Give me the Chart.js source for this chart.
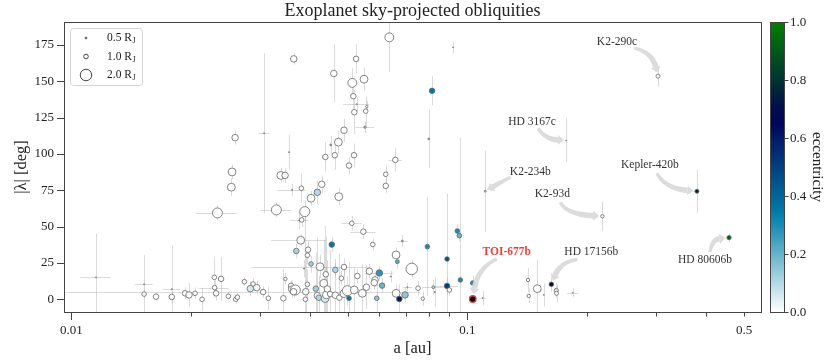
<!DOCTYPE html>
<html>
<head>
<meta charset="utf-8">
<script src="https://cdn.jsdelivr.net/npm/chart.js@4.4.0/dist/chart.umd.min.js"></script>
<style>
  html, body { margin: 0; padding: 0; background: #fff; }
  #wrap { width: 831px; height: 362px; }
</style>
</head>
<body>
<div id="wrap"><canvas id="obliq" width="831" height="362"></canvas></div>
<script>
// semi-major axis [au], |lambda| [deg] and their errors; the 8 annotated planets are last
const semiMajor = [
  0.01154, 0.01526, 0.01526, 0.01636, 0.01793, 0.01793, 0.01937, 0.01982, 0.02053, 0.02138,
  0.02296, 0.02388, 0.02300, 0.02320, 0.02492, 0.02600, 0.02626, 0.02338, 0.02535, 0.02546,
  0.02591, 0.02735, 0.02877, 0.02831, 0.02939, 0.03049, 0.03144, 0.03066, 0.03294, 0.03380,
  0.03465, 0.03431, 0.03471, 0.03546, 0.03644, 0.03587, 0.03600, 0.03678, 0.03640, 0.03607,
  0.03699, 0.03764, 0.03817, 0.03808, 0.03795, 0.03885, 0.03869, 0.03907, 0.03900, 0.03945,
  0.03960, 0.03945, 0.04030, 0.04030, 0.04142, 0.04180, 0.04214, 0.04180, 0.04288, 0.04246,
  0.04339, 0.04372, 0.04379, 0.04390, 0.04405, 0.04431, 0.04501, 0.04519, 0.04546, 0.04599,
  0.04626, 0.04642, 0.04640, 0.04723, 0.04735, 0.04751, 0.04806, 0.04882, 0.04880, 0.04880,
  0.04977, 0.05026, 0.05026, 0.05106, 0.05123, 0.05153, 0.05183, 0.05174, 0.05180, 0.05236,
  0.05257, 0.05275, 0.05430, 0.05463, 0.05484, 0.05538, 0.05572, 0.05517, 0.05559, 0.05656,
  0.05769, 0.05848, 0.05820, 0.05905, 0.05995, 0.06090, 0.06222, 0.06222, 0.06353, 0.06406,
  0.06579, 0.06607, 0.06656, 0.06610, 0.06735, 0.06854, 0.06962, 0.07056, 0.07238, 0.07508,
  0.07716, 0.07925, 0.07990, 0.08146, 0.08206, 0.08274, 0.08887, 0.08887, 0.09006, 0.09203,
  0.09434, 0.09546, 0.09601, 0.10320, 0.10940, 0.14230, 0.15020, 0.14290, 0.15600, 0.16780,
  0.16800, 0.18460,
  0.1032, 0.163, 0.1775, 0.111, 0.2193, 0.303, 0.380, 0.458
];
const lambdaDeg = [
  15.1, 3.6, 10.3, 1.8, 1.6, 6.9, 4.1, 3.0, 4.1, 0.0,
  15.1, 14.0, 8.0, 4.1, 2.1, 0.0, 1.4, 59.4, 77.1, 87.6,
  111.2, 12.1, 10.5, 7.3, 8.0, 5.0, 0.7, 114.2, 61.5, 85.2,
  85.2, 0.7, 14.0, 101.2, 165.4, 9.2, 6.9, 6.4, 5.2, 75.2,
  33.2, 54.2, 54.6, 76.4, 40.6, 60.3, 21.1, 5.2, 0.0, 10.3,
  34.1, 30.3, 69.5, 24.3, 7.3, 2.5, 1.1, 73.6, 79.1, 22.4,
  11.0, 0.5, 97.9, 17.2, 3.0, 7.1, 3.6, 106.2, 37.6, 155.3,
  99.1, 20.2, 2.8, 108.1, 70.6, 1.1, 14.5, 116.3, 22.2, 3.9,
  5.9, 0.7, 92.0, 52.3, 148.9, 139.7, 128.7, 99.1, 6.4, 165.4,
  134.2, 16.0, 4.1, 46.5, 151.4, 129.4, 132.6, 118.4, 8.3, 19.3,
  37.7, 13.3, 11.4, 0.7, 18.1, 9.4, 86.0, 78.0, 180.2, 15.6,
  95.9, 30.5, 25.9, 4.1, 0.2, 40.1, 3.0, 8.3, 20.9, 7.6,
  0.4, 36.2, 110.3, 143.4, 8.3, 5.0, 27.7, 9.2, 6.4, 173.3,
  47.0, 43.8, 13.3, 11.2, 0.9, 13.3, 7.3, 2.3, 3.0, 6.2,
  4.1, 4.5,
  0.2, 10.3, 109.4, 74.3, 57.1, 153.5, 74.3, 42.4
];
const lambdaErr = [
  30, 3, 20, 3, 4, 30, 4, 8, 4, 8,
  14, 15, 5, 5, 3, 3, 3, 5, 6, 5,
  5, 3, 4, 5, 5, 4, 8, 55, 5, 5,
  5, 20, 4, 12, 4, 4, 6, 3, 4, 4,
  5, 6, 5, 10, 4, 8, 6, 30, 60, 10,
  6, 6, 5, 6, 25, 40, 15, 8, 6, 8,
  30, 50, 10, 5, 40, 20, 30, 6, 5, 20,
  10, 5, 25, 8, 6, 30, 5, 8, 6, 20,
  10, 25, 6, 5, 10, 10, 15, 8, 15, 10,
  5, 5, 20, 5, 8, 10, 4, 4, 15, 5,
  4, 5, 5, 10, 5, 5, 6, 5, 24, 4,
  8, 5, 5, 6, 10, 4, 5, 3, 6, 5,
  5, 34, 20, 10, 5, 10, 45, 6, 4, 4,
  5, 4, 98, 5, 5, 8, 20, 5, 8, 5,
  6, 3,
  3, 5, 15, 28, 10, 7, 15, 3
];
const semiErr = [
  0.0010, 0, 0.0008, 0, 0, 0.0009, 0, 0, 0, 0,
  0, 0, 0.0020, 0, 0, 0, 0, 0.0028, 0, 0,
  0, 0, 0, 0, 0, 0.0455, 0, 0.0010, 0.0030, 0,
  0, 0, 0, 0, 0, 0, 0, 0, 0, 0.0030,
  0, 0.0020, 0, 0, 0.0060, 0, 0, 0, 0, 0,
  0, 0, 0, 0, 0, 0, 0, 0, 0, 0.0140,
  0, 0, 0, 0, 0, 0, 0, 0, 0, 0,
  0, 0, 0, 0, 0, 0, 0, 0, 0, 0,
  0, 0, 0, 0.0030, 0, 0, 0, 0, 0, 0,
  0.0040, 0, 0, 0.0040, 0, 0, 0, 0.0030, 0, 0,
  0, 0, 0, 0, 0.0050, 0, 0, 0, 0, 0,
  0.0026, 0, 0, 0, 0, 0.0020, 0, 0.0020, 0, 0,
  0, 0, 0, 0, 0.0050, 0, 0, 0.0060, 0, 0,
  0, 0, 0, 0, 0.0020, 0, 0, 0, 0, 0,
  0, 0.0060,
  0, 0, 0, 0, 0, 0, 0, 0
];
// planet radius [R_J] and orbital eccentricity
const radiusRJ = [
  0.35, 1.0, 0.35, 1.15, 1.15, 0.35, 1.15, 1.3, 1.0, 1.0,
  1.0, 1.15, 1.0, 1.15, 1.0, 1.0, 1.0, 1.8, 1.5, 1.5,
  1.3, 1.0, 1.0, 1.3, 1.3, 1.15, 1.0, 0.35, 1.8, 1.5,
  1.3, 1.15, 0.8, 0.35, 1.3, 1.15, 1.3, 1.8, 1.3, 0.35,
  1.15, 0.35, 1.0, 1.0, 1.5, 1.8, 0.35, 1.3, 1.0, 1.0,
  1.15, 1.0, 1.5, 1.0, 1.15, 1.3, 1.15, 1.3, 1.3, 1.5,
  1.5, 1.5, 1.15, 1.15, 1.5, 1.3, 1.15, 0.5, 1.15, 1.3,
  1.15, 1.15, 1.3, 1.5, 1.5, 1.15, 1.0, 1.3, 1.15, 1.5,
  1.8, 1.0, 1.15, 1.0, 1.65, 1.15, 1.15, 1.15, 1.5, 1.15,
  0.35, 1.15, 1.5, 1.15, 1.5, 1.0, 0.6, 0.6, 1.3, 1.3,
  1.0, 1.3, 1.3, 1.0, 1.3, 1.15, 1.0, 1.15, 1.65, 0.35,
  1.15, 1.5, 0.9, 1.5, 1.15, 0.5, 1.3, 0.35, 2.0, 1.0,
  0.8, 1.0, 0.5, 1.15, 0.7, 0.35, 1.0, 1.15, 1.0, 0.3,
  1.0, 1.0, 1.0, 1.0, 0.3, 0.8, 1.5, 0.8, 0.3, 0.9,
  0.9, 0.3,
  1.3, 1.0, 0.25, 0.5, 0.8, 0.9, 0.9, 0.95
];
const ecc = [
  0, 0, 0, 0, 0, 0, 0, 0, 0, 0,
  0, 0, 0, 0, 0, 0, 0, 0, 0, 0,
  0, 0, 0, 0.05, 0, 0, 0, 0, 0, 0,
  0, 0, 0, 0, 0, 0, 0, 0, 0, 0,
  0.12, 0, 0, 0, 0, 0, 0.05, 0, 0, 0,
  0, 0, 0, 0.12, 0.12, 0, 0.1, 0.1, 0, 0,
  0, 0.05, 0, 0, 0, 0, 0, 0.1, 0.35, 0,
  0, 0.1, 0, 0, 0, 0, 0, 0, 0, 0,
  0, 0.35, 0, 0, 0, 0, 0, 0, 0, 0,
  0, 0, 0, 0, 0, 0, 0, 0.1, 0, 0,
  0, 0, 0, 0.15, 0.28, 0.2, 0, 0, 0, 0,
  0, 0, 0.22, 0, 0.6, 0.1, 0.15, 0, 0, 0,
  0, 0.3, 0.05, 0.35, 0.1, 0, 0.45, 0.5, 0, 0,
  0.3, 0.2, 0.3, 0.3, 0, 0, 0, 0, 0, 0.05,
  0, 0,
  0.43, 0.68, 0.05, 0.1, 0, 0, 0.77, 0.93
];
const namedPlanets = ['TOI-677b', 'HD 17156b', 'HD 3167c', 'K2-234b', 'K2-93d', 'K2-290c', 'Kepler-420b', 'HD 80606b'];

const yTicks = [0, 25, 50, 75, 100, 125, 150, 175];
const xTicks = [0.01, 0.02, 0.03, 0.04, 0.05, 0.06, 0.07, 0.08, 0.09, 0.1, 0.2, 0.3, 0.4, 0.5];
const xTickLabels = ['0.01', '0.1', '0.5'];
const cbarTicks = [0.0, 0.2, 0.4, 0.6, 0.8, 1.0];
const legendSizes = [0.5, 1.0, 2.0];

const firstNamed = semiMajor.length - namedPlanets.length;
const toiIdx = firstNamed;

// label offsets in px relative to the planet (text, arrow start, arrow bend)
const annotations = [
  { name: 'TOI-677b', text: [34, -47], from: [24, -40], bend: [5, -31], color: '#e5423b', bold: true },
  { name: 'HD 17156b', text: [40, -32], from: [26, -25], bend: [9, -22] },
  { name: 'HD 3167c', text: [-34, -18], from: [-28, -12], bend: [-21, -1] },
  { name: 'K2-234b', text: [45, -19], from: [25, -14], bend: [10, -6] },
  { name: 'K2-93d', text: [-50, -22], from: [-42, -14], bend: [-36, -2] },
  { name: 'K2-290c', text: [-41, -34], from: [-24, -28], bend: [-6, -24] },
  { name: 'Kepler-420b', text: [-47, -26], from: [-40, -18], bend: [-32, -3] },
  { name: 'HD 80606b', text: [-24, 22], from: [-19, 14], bend: [-17, 2] },
];

const serif = '"Liberation Serif", "DejaVu Serif", serif';
const sizeToPx = R => 2.3 * Math.pow(R, 1.32);

function oceanR(e) {
  const t = 1 - Math.min(1, Math.max(0, e));
  const c = v => Math.round(255 * Math.min(1, Math.max(0, v)));
  return `rgb(${c(3 * t - 2)},${c(Math.abs((3 * t - 1) / 2))},${c(t)})`;
}

const points = semiMajor.map((a, i) => ({ x: a, y: lambdaDeg[i], r: sizeToPx(radiusRJ[i]) }));

const errorBars = {
  id: 'errorBars',
  beforeDatasetsDraw(chart) {
    const { ctx, chartArea: ca, scales: { x, y } } = chart;
    ctx.save();
    ctx.beginPath();
    ctx.rect(ca.left, ca.top, ca.right - ca.left, ca.bottom - ca.top);
    ctx.clip();
    ctx.strokeStyle = 'rgba(170,170,170,0.42)';
    ctx.lineWidth = 1;
    semiMajor.forEach((a, i) => {
      const px = Math.round(x.getPixelForValue(a)) + 0.5;
      const py = Math.round(y.getPixelForValue(lambdaDeg[i])) + 0.5;
      ctx.beginPath();
      if (lambdaErr[i] > 0) {
        ctx.moveTo(px, y.getPixelForValue(lambdaDeg[i] - lambdaErr[i]));
        ctx.lineTo(px, y.getPixelForValue(lambdaDeg[i] + lambdaErr[i]));
      }
      if (semiErr[i] > 0) {
        const lo = Math.max(a - semiErr[i], x.min);
        ctx.moveTo(x.getPixelForValue(lo), py);
        ctx.lineTo(x.getPixelForValue(a + semiErr[i]), py);
      }
      ctx.stroke();
    });
    ctx.restore();
  }
};

function drawArrow(ctx, S, C, E) {
  // tapered band along a quadratic curve, then a head at E
  const dx = E[0] - C[0], dy = E[1] - C[1];
  const len = Math.hypot(dx, dy) || 1;
  const ux = dx / len, uy = dy / len;
  const headLen = 6, headW = 5;
  const B = [E[0] - ux * headLen, E[1] - uy * headLen];
  const qb = (t, k) => (1 - t) * (1 - t) * S[k] + 2 * (1 - t) * t * C[k] + t * t * B[k];
  const n = 24, left = [], right = [];
  for (let j = 0; j <= n; j++) {
    const t = j / n;
    const t2 = Math.min(1, t + 0.01), t1 = Math.max(0, t - 0.01);
    const tx = qb(t2, 0) - qb(t1, 0), ty = qb(t2, 1) - qb(t1, 1);
    const l = Math.hypot(tx, ty) || 1;
    const w = 1.6 + 1.3 * t;
    const nx = -ty / l * w, ny = tx / l * w;
    left.push([qb(t, 0) + nx, qb(t, 1) + ny]);
    right.push([qb(t, 0) - nx, qb(t, 1) - ny]);
  }
  ctx.beginPath();
  ctx.moveTo(left[0][0], left[0][1]);
  left.forEach(p => ctx.lineTo(p[0], p[1]));
  right.reverse().forEach(p => ctx.lineTo(p[0], p[1]));
  ctx.closePath();
  ctx.fill();
  ctx.beginPath();
  ctx.moveTo(E[0], E[1]);
  ctx.lineTo(B[0] - uy * headW, B[1] + ux * headW);
  ctx.lineTo(B[0] + uy * headW, B[1] - ux * headW);
  ctx.closePath();
  ctx.fill();
}

const labels = {
  id: 'labels',
  afterDatasetsDraw(chart) {
    const { ctx, scales: { x, y } } = chart;
    ctx.save();
    annotations.forEach(an => {
      const i = firstNamed + namedPlanets.indexOf(an.name);
      const px = x.getPixelForValue(semiMajor[i]);
      const py = y.getPixelForValue(lambdaDeg[i]);
      const S = [px + an.from[0], py + an.from[1]];
      const C = [px + an.bend[0], py + an.bend[1]];
      const dx = px - C[0], dy = py - C[1], l = Math.hypot(dx, dy);
      const shrink = sizeToPx(radiusRJ[i]) + 1.5;
      const E = [px - dx / l * shrink, py - dy / l * shrink];
      ctx.fillStyle = 'rgba(216,216,216,0.9)';
      drawArrow(ctx, S, C, E);
      ctx.fillStyle = an.color || '#333';
      ctx.font = (an.bold ? 'bold ' : '') + '11.5px ' + serif;
      ctx.textAlign = 'center';
      ctx.textBaseline = 'middle';
      ctx.fillText(an.name, px + an.text[0], py + an.text[1]);
    });
    ctx.restore();
  }
};

const frame = {
  id: 'frame',
  afterDraw(chart) {
    const { ctx, chartArea: ca, scales: { x, y } } = chart;
    ctx.save();
    // title
    ctx.fillStyle = '#222';
    ctx.font = '18px ' + serif;
    ctx.textAlign = 'center';
    ctx.textBaseline = 'middle';
    ctx.fillText('Exoplanet sky-projected obliquities', (ca.left + ca.right) / 2, 11);

    // axes box and ticks
    ctx.strokeStyle = '#444';
    ctx.lineWidth = 1;
    ctx.strokeRect(Math.round(ca.left) + 0.5, Math.round(ca.top) + 0.5,
      Math.round(ca.right - ca.left), Math.round(ca.bottom - ca.top));
    ctx.beginPath();
    yTicks.forEach(v => {
      const py = Math.round(y.getPixelForValue(v)) + 0.5;
      ctx.moveTo(ca.left, py); ctx.lineTo(ca.left - 7, py);
    });
    xTicks.forEach(v => {
      const px = Math.round(x.getPixelForValue(v)) + 0.5;
      const major = Math.abs(Math.log10(v) - Math.round(Math.log10(v))) < 1e-6;
      ctx.moveTo(px, ca.bottom); ctx.lineTo(px, ca.bottom + (major ? 8 : 4.5));
    });
    ctx.stroke();

    // legend for marker sizes
    const lx = 70, ly = 28, lw = 72, lh = 57;
    ctx.beginPath();
    ctx.roundRect(lx + 0.5, ly + 0.5, lw, lh, 3);
    ctx.fillStyle = 'rgba(255,255,255,0.85)';
    ctx.fill();
    ctx.strokeStyle = '#d4d4d4';
    ctx.stroke();
    legendSizes.forEach((R, k) => {
      const cy = ly + 10 + k * 18.5;
      ctx.beginPath();
      ctx.arc(86, cy, sizeToPx(R), 0, Math.PI * 2);
      ctx.fillStyle = '#fff';
      ctx.fill();
      ctx.strokeStyle = '#333';
      ctx.lineWidth = 0.9;
      ctx.stroke();
      ctx.fillStyle = '#222';
      ctx.textAlign = 'left';
      ctx.textBaseline = 'middle';
      ctx.font = '11.5px ' + serif;
      const txt = R.toFixed(1) + ' R';
      ctx.fillText(txt, 107, cy);
      const w = ctx.measureText(txt).width;
      ctx.font = '8px ' + serif;
      ctx.fillText('J', 107 + w + 0.5, cy + 3);
    });

    // colorbar
    const cx0 = 770, cx1 = 784;
    const grad = ctx.createLinearGradient(0, ca.bottom, 0, ca.top);
    for (let s = 0; s <= 20; s++) grad.addColorStop(s / 20, oceanR(s / 20));
    ctx.fillStyle = grad;
    ctx.fillRect(cx0, ca.top, cx1 - cx0, ca.bottom - ca.top);
    ctx.strokeStyle = '#444';
    ctx.lineWidth = 1;
    ctx.strokeRect(cx0 + 0.5, Math.round(ca.top) + 0.5, cx1 - cx0, Math.round(ca.bottom - ca.top));
    ctx.fillStyle = '#222';
    ctx.font = '13px ' + serif;
    ctx.textAlign = 'left';
    ctx.textBaseline = 'middle';
    cbarTicks.forEach(v => {
      const py = Math.round(ca.bottom - v * (ca.bottom - ca.top)) + 0.5;
      ctx.beginPath();
      ctx.moveTo(cx1, py); ctx.lineTo(cx1 + 4.5, py);
      ctx.stroke();
      ctx.fillText(v.toFixed(1), cx1 + 6, py);
    });
    ctx.save();
    ctx.translate(817, (ca.top + ca.bottom) / 2);
    ctx.rotate(Math.PI / 2);
    ctx.textAlign = 'center';
    ctx.font = '15px ' + serif;
    ctx.fillText('eccentricity', 0, 0);
    ctx.restore();
    ctx.restore();
  }
};

new Chart(document.getElementById('obliq'), {
  type: 'bubble',
  data: {
    datasets: [{
      data: points,
      backgroundColor: c => c.dataIndex === toiIdx ? '#000' : oceanR(ecc[c.dataIndex]),
      borderColor: c => c.dataIndex === toiIdx ? '#e5423b' : '#666',
      borderWidth: c => c.dataIndex === toiIdx ? 1.3 : 0.8,
      hoverRadius: 0,
    }]
  },
  options: {
    responsive: false,
    animation: false,
    devicePixelRatio: 1,
    layout: { padding: { left: 0, right: 70, top: 22, bottom: 0 } },
    plugins: { legend: { display: false }, tooltip: { enabled: false } },
    scales: {
      x: {
        type: 'logarithmic',
        min: 0.00958,
        max: 0.5516,
        afterBuildTicks: s => { s.ticks = xTicks.map(v => ({ value: v })); },
        afterFit: s => { s.height = 50; },
        ticks: {
          autoSkip: false,
          maxRotation: 0,
          padding: 4,
          color: '#222',
          font: { family: serif, size: 13 },
          callback: v => xTickLabels.find(t => Math.abs(parseFloat(t) - v) < 1e-9) || ''
        },
        grid: { display: true, drawOnChartArea: false, drawTicks: true, tickLength: 7, tickColor: 'rgba(0,0,0,0)' },
        border: { display: false },
        title: { display: true, text: 'a [au]', color: '#222', font: { family: serif, size: 16.5 }, padding: { top: 0, bottom: 3 } }
      },
      y: {
        min: -8.75,
        max: 190.75,
        afterBuildTicks: s => { s.ticks = yTicks.map(v => ({ value: v })); },
        afterFit: s => { s.width = 64; },
        ticks: { padding: 3, color: '#222', font: { family: serif, size: 13 } },
        grid: { display: true, drawOnChartArea: false, drawTicks: true, tickLength: 7, tickColor: 'rgba(0,0,0,0)' },
        border: { display: false },
        title: { display: true, text: '|λ| [deg]', color: '#222', font: { family: serif, size: 16.5 }, padding: { top: 12, bottom: 0 } }
      }
    }
  },
  plugins: [errorBars, labels, frame]
});
</script>
</body>
</html>
